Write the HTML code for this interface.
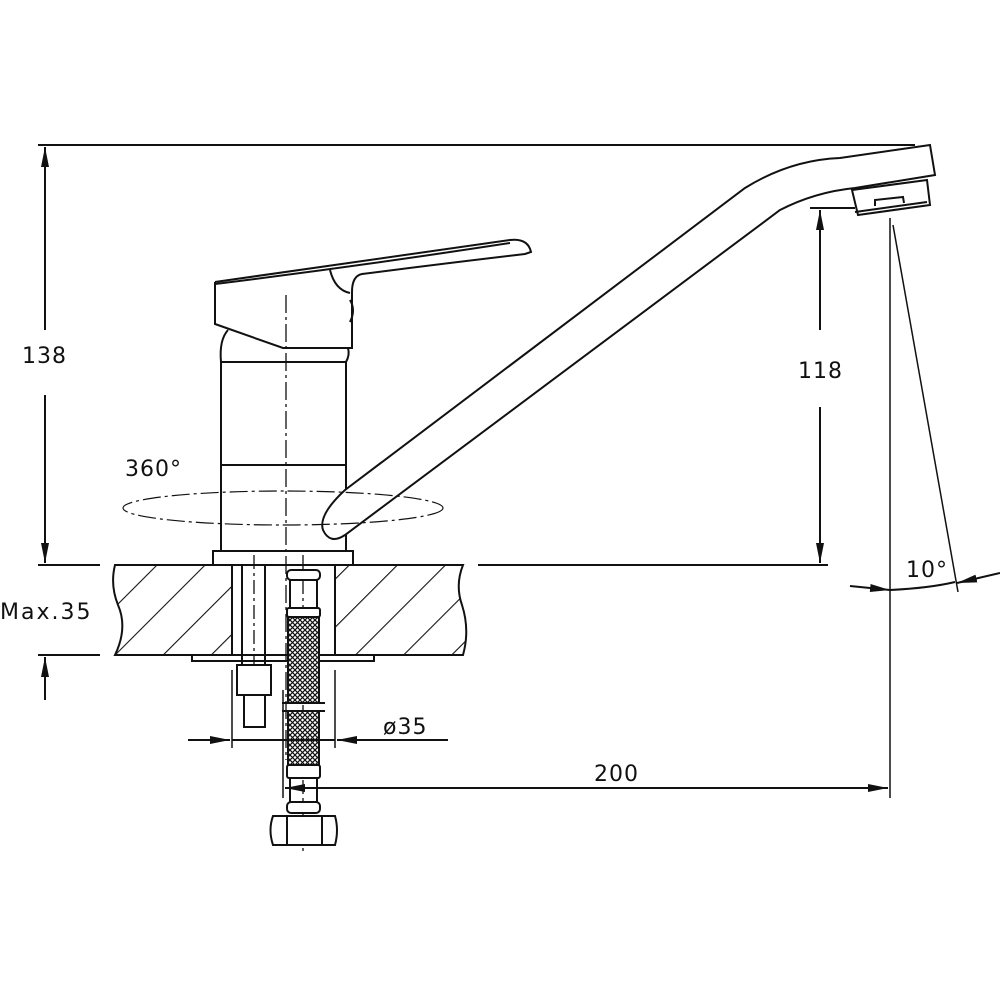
<!DOCTYPE html>
<html><head><meta charset="utf-8"><style>
html,body{margin:0;padding:0;background:#fff}
svg{display:block}
text{font-family:"DejaVu Sans","Liberation Sans",sans-serif;font-size:22px;fill:#111;letter-spacing:1px}
</style></head><body>
<svg width="1000" height="1000" viewBox="0 0 1000 1000" xmlns="http://www.w3.org/2000/svg">
<defs>
<pattern id="hatch" width="34" height="34" patternUnits="userSpaceOnUse" patternTransform="rotate(45)">
<line x1="0" y1="0" x2="0" y2="34" stroke="#111" stroke-width="2.2"/>
</pattern>
<pattern id="mesh" width="5" height="5" patternUnits="userSpaceOnUse">
<rect width="5" height="5" fill="#fff"/>
<path d="M0,0L5,5M5,0L0,5" stroke="#111" stroke-width="1.2"/>
</pattern>
<marker id="ar" viewBox="0 0 20 8" refX="20" refY="4" markerWidth="20" markerHeight="8" markerUnits="userSpaceOnUse" orient="auto-start-reverse">
<path d="M0,0L20,4L0,8z" fill="#111"/>
</marker>
</defs>
<g fill="none" stroke="#111" stroke-width="2">
<line x1="38" y1="145" x2="915" y2="145"/>
<line x1="45" y1="330" x2="45" y2="147" marker-end="url(#ar)"/>
<line x1="45" y1="395" x2="45" y2="563" marker-end="url(#ar)"/>
<line x1="38" y1="565" x2="100" y2="565"/>
<line x1="38" y1="655" x2="100" y2="655"/>
<line x1="45" y1="700" x2="45" y2="657" marker-end="url(#ar)"/>
<path d="M115,565 L232,565 L232,655 L115,655 Q128,628 118,605 Q110,585 115,565Z" fill="url(#hatch)"/>
<path d="M335,565 L463,565 Q455,585 462,605 Q470,630 463,655 L335,655Z" fill="url(#hatch)"/>
<rect x="192" y="655" width="182" height="6" fill="#fff"/>
<rect x="213" y="551" width="140" height="14" fill="#fff"/>
<rect x="221" y="362" width="125" height="189" fill="#fff"/>
<line x1="221" y1="465" x2="346" y2="465"/>
<path d="M221,362 Q219,340 228,330"/>
<path d="M346,362 Q350,355 348,348"/>
<path d="M215,282 L215,324 L283,348 L352,348 L352,292" fill="#fff"/>
<path d="M215,282 Q360,262 510,240 Q528,238 531,252 L525,254 Q440,264 362,274 Q352,276 352,292"/>
<path d="M215,284 Q360,266 510,243"/>
<path d="M330,270 Q335,290 350,293"/>
<path d="M350,300 Q356,310 350,322"/>
<path d="M345,490 L745,188 Q790,160 840,158 L930,145 L935,175 L855,188 Q815,192 780,210 L345,535 Q330,545 323,530 Q318,515 345,490Z" fill="#fff"/>
<path d="M852,190 L927,180 L930,205 L858,215Z" fill="#fff"/>
<path d="M855,212 L927,202"/>
<path d="M875,206 L875,200 L903,197 L904,203"/>
<ellipse cx="283" cy="508" rx="160" ry="17" stroke-width="1.2" stroke-dasharray="18,4,3,4"/>
<line x1="286" y1="295" x2="286" y2="760" stroke-width="1.3" stroke-dasharray="18,4,3,4"/>
<line x1="254" y1="555" x2="254" y2="730" stroke-width="1.3" stroke-dasharray="14,4,3,4"/>
<line x1="303" y1="555" x2="303" y2="855" stroke-width="1.3" stroke-dasharray="14,4,3,4"/>
<line x1="890" y1="218" x2="890" y2="798" stroke-width="1.5"/>
<line x1="893" y1="225" x2="958" y2="592" stroke-width="1.5"/>
<path d="M850,586 L890,590" marker-end="url(#ar)"/>
<path d="M890,590 Q930,588 955,582"/>
<path d="M1000,573 L957,583" marker-end="url(#ar)"/>
<line x1="810" y1="208" x2="855" y2="208"/>
<line x1="820" y1="330" x2="820" y2="210" marker-end="url(#ar)"/>
<line x1="820" y1="407" x2="820" y2="563" marker-end="url(#ar)"/>
<line x1="478" y1="565" x2="828" y2="565"/>
<line x1="242" y1="565" x2="242" y2="665"/>
<line x1="265" y1="565" x2="265" y2="665"/>
<rect x="237" y="665" width="34" height="30" fill="#fff"/>
<rect x="244" y="695" width="21" height="32" fill="#fff"/>
<rect x="287" y="570" width="33" height="10" rx="4" fill="#fff"/>
<line x1="290" y1="580" x2="290" y2="608"/><line x1="317" y1="580" x2="317" y2="608"/>
<rect x="287" y="608" width="33" height="9" rx="2" fill="#fff"/>
<rect x="288" y="617" width="31" height="86" fill="url(#mesh)"/>
<line x1="282" y1="703" x2="325" y2="703"/><line x1="282" y1="711" x2="325" y2="711"/>
<rect x="288" y="711" width="31" height="54" fill="url(#mesh)"/>
<rect x="287" y="765" width="33" height="13" rx="2" fill="#fff"/>
<line x1="290" y1="778" x2="290" y2="802"/><line x1="317" y1="778" x2="317" y2="802"/>
<rect x="287" y="802" width="33" height="11" rx="4" fill="#fff"/>
<path d="M273,816 L335,816 Q339,830 335,845 L273,845 Q268,830 273,816Z" fill="#fff"/>
<line x1="287" y1="817" x2="287" y2="845"/><line x1="322" y1="817" x2="322" y2="845"/>
<line x1="232" y1="670" x2="232" y2="748" stroke-width="1.5"/>
<line x1="335" y1="670" x2="335" y2="748" stroke-width="1.5"/>
<line x1="188" y1="740" x2="230" y2="740" marker-end="url(#ar)"/>
<line x1="232" y1="740" x2="335" y2="740"/>
<line x1="448" y1="740" x2="337" y2="740" marker-end="url(#ar)"/>
<line x1="283" y1="690" x2="283" y2="798" stroke-width="1.5"/>
<line x1="587" y1="788" x2="285" y2="788" marker-end="url(#ar)"/>
<line x1="587" y1="788" x2="888" y2="788" marker-end="url(#ar)"/>
</g>
<text x="22" y="363">138</text>
<text x="798" y="378">118</text>
<text x="125" y="476">360°</text>
<text x="0" y="619" style="letter-spacing:2px">Max.35</text>
<text x="383" y="734">ø35</text>
<text x="594" y="781">200</text>
<text x="906" y="577">10°</text>
</svg>
</body></html>
